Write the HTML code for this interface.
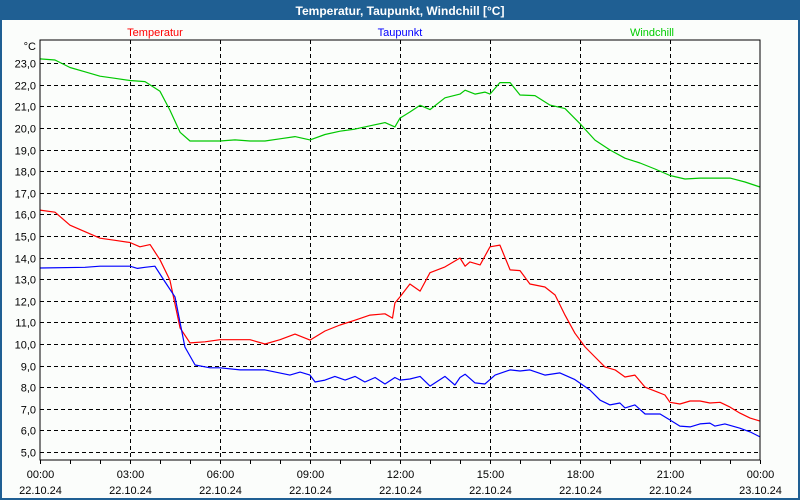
<!DOCTYPE html>
<html><head><meta charset="utf-8"><style>
html,body{margin:0;padding:0;background:#fff}
svg{display:block;font-family:"Liberation Sans","DejaVu Sans",sans-serif}
</style></head><body>
<svg width="800" height="500" viewBox="0 0 800 500">
<rect x="0" y="0" width="800" height="500" fill="#1f5f93"/>
<rect x="2" y="20" width="796" height="478" fill="#fbfdfb"/>
<text x="400" y="15" text-anchor="middle" fill="#fff" font-weight="bold" font-size="12">Temperatur, Taupunkt, Windchill [°C]</text>
<text x="155" y="36" text-anchor="middle" fill="#f00" font-size="11">Temperatur</text>
<text x="400" y="36" text-anchor="middle" fill="#00f" font-size="11">Taupunkt</text>
<text x="652" y="36" text-anchor="middle" fill="#0c0" font-size="11">Windchill</text>
<text x="36" y="50" text-anchor="end" font-size="11" fill="#000">°C</text>
<g id="grid"></g>
<g id="series"></g>
<rect x="40" y="40" width="720" height="420" fill="none" stroke="#000" stroke-width="1"/>
<g id="labels"></g>
</svg>
<script>
const yTicks = [5,6,7,8,9,10,11,12,13,14,15,16,17,18,19,20,21,22,23];
const xTickHours = [0,3,6,9,12,15,18,21,24];
const xTimeLabels = ["00:00","03:00","06:00","09:00","12:00","15:00","18:00","21:00","00:00"];
const xDateLabels = ["22.10.24","22.10.24","22.10.24","22.10.24","22.10.24","22.10.24","22.10.24","22.10.24","23.10.24"];

const windHours = [0,0.5,1,1.5,2,2.5,3,3.5,4,4.33,4.67,5,5.5,6,6.5,7,7.5,8,8.5,9,9.5,10,10.5,11,11.5,11.83,12,12.33,12.67,13,13.5,14,14.17,14.5,14.83,15,15.33,15.67,16,16.5,17,17.5,18,18.5,19,19.5,20,20.5,21,21.5,22,22.5,23,23.5,24];
const windVals = [23.2,23.15,22.8,22.6,22.4,22.3,22.2,22.15,21.7,20.83,19.8,19.4,19.4,19.4,19.45,19.4,19.4,19.5,19.6,19.45,19.7,19.85,19.95,20.1,20.25,20.05,20.46,20.74,21.05,20.85,21.4,21.57,21.75,21.57,21.66,21.57,22.1,22.1,21.53,21.5,21.06,20.9,20.2,19.44,18.98,18.6,18.38,18.1,17.8,17.64,17.68,17.68,17.68,17.5,17.27,17.13];

const tempHours = [0,0.5,1,1.5,2,2.5,3,3.33,3.67,4,4.33,4.67,5,5.5,6,7,7.5,8,8.5,9,9.5,10,10.5,11,11.5,11.75,11.83,12,12.33,12.67,13,13.5,14,14.17,14.33,14.67,15,15.33,15.67,16,16.33,16.83,17.17,17.5,17.83,18.17,18.5,18.83,19.17,19.5,19.83,20.17,20.5,20.83,21,21.33,21.67,22,22.33,22.67,23,23.33,23.67,24];
const tempVals = [16.2,16.1,15.5,15.2,14.9,14.8,14.7,14.5,14.6,13.9,12.96,10.74,10.05,10.1,10.2,10.2,10.0,10.2,10.46,10.18,10.6,10.88,11.1,11.34,11.4,11.2,11.9,12.18,12.78,12.45,13.3,13.57,13.98,13.6,13.8,13.66,14.5,14.58,13.43,13.4,12.78,12.64,12.27,11.34,10.5,9.86,9.4,8.94,8.8,8.47,8.56,8.0,7.82,7.64,7.3,7.22,7.36,7.36,7.27,7.3,7.08,6.8,6.57,6.43];

const dewHours = [0,1.5,2,3,3.25,3.5,3.83,4.17,4.5,4.83,5.17,5.67,6,6.67,7,7.5,8.33,8.67,9,9.17,9.5,9.83,10.17,10.5,10.83,11.17,11.5,11.83,12,12.33,12.67,13,13.5,13.83,14,14.17,14.5,14.83,15.17,15.67,16,16.33,16.83,17.33,17.83,18.33,18.67,19,19.33,19.5,19.83,20.17,20.67,21,21.33,21.67,22,22.33,22.5,22.83,23.33,23.67,24];
const dewVals = [13.52,13.55,13.6,13.6,13.5,13.55,13.6,12.87,12.18,9.86,9.03,8.9,8.9,8.8,8.8,8.8,8.56,8.7,8.56,8.24,8.33,8.5,8.33,8.5,8.24,8.45,8.15,8.45,8.33,8.38,8.5,8.05,8.5,8.1,8.45,8.6,8.2,8.15,8.56,8.8,8.75,8.8,8.56,8.66,8.35,7.87,7.4,7.18,7.27,7.04,7.18,6.76,6.76,6.48,6.2,6.16,6.3,6.34,6.2,6.3,6.1,5.93,5.7,5.56];

const NS = "http://www.w3.org/2000/svg";
const X0 = 40, X1 = 760, YB = 452, YPER = 21.6;
function xScale(h){ return X0 + (h/24)*(X1-X0); }
function yScale(v){ return YB - (v-5)*YPER; }
function mk(tag, attrs, parent){
  const e = document.createElementNS(NS, tag);
  for (const k in attrs) e.setAttribute(k, attrs[k]);
  parent.appendChild(e);
  return e;
}
const grid = document.getElementById('grid');
const labels = document.getElementById('labels');
const series = document.getElementById('series');

yTicks.forEach(v => {
  const y = Math.round(yScale(v)) + 0.5;
  const l = mk('line', {x1:X0, x2:X1, y1:y, y2:y, stroke:'#000', 'stroke-dasharray':'4,3', 'stroke-width':1}, grid);
  
  
  const t = mk('text', {x:36, y:y+4, 'text-anchor':'end', 'font-size':11, fill:'#000'}, labels);
  t.textContent = v.toFixed(1).replace('.', ',');
  
  
});
xTickHours.forEach((h, i) => {
  const x = Math.round(xScale(h)) + 0.5;
  if (h > 0 && h < 24) {
    const l = mk('line', {x1:x, x2:x, y1:40, y2:460, stroke:'#000', 'stroke-dasharray':'4,3', 'stroke-width':1}, grid);
    
    
  }
  const t1 = mk('text', {x:x, y:478, 'text-anchor':'middle', 'font-size':11, fill:'#000'}, labels);
  t1.textContent = xTimeLabels[i];
  
  
  const t2 = mk('text', {x:x, y:494, 'text-anchor':'middle', 'font-size':11, fill:'#000'}, labels);
  t2.textContent = xDateLabels[i];
  
  
});
for (let h = 0; h <= 24; h += 1) {
  const x = Math.round(xScale(h)) + 0.5;
  const tk = mk('line', {x1:x, x2:x, y1:460, y2:464, stroke:'#000', 'stroke-width':1}, labels);
  
  
}
function drawLine(hours, vals, color, name){
  const pts = hours.map((h,i) => xScale(h).toFixed(1) + ',' + yScale(vals[i]).toFixed(1)).join(' ');
  const p = mk('polyline', {points:pts, fill:'none', stroke:color, 'stroke-width':1.2, 'stroke-linejoin':'round'}, series);
  
  
}
drawLine(windHours, windVals, '#00c800', 'windchill-line');
drawLine(tempHours, tempVals, '#ff0000', 'temperatur-line');
drawLine(dewHours, dewVals, '#0000ff', 'taupunkt-line');
</script>
</body></html>
